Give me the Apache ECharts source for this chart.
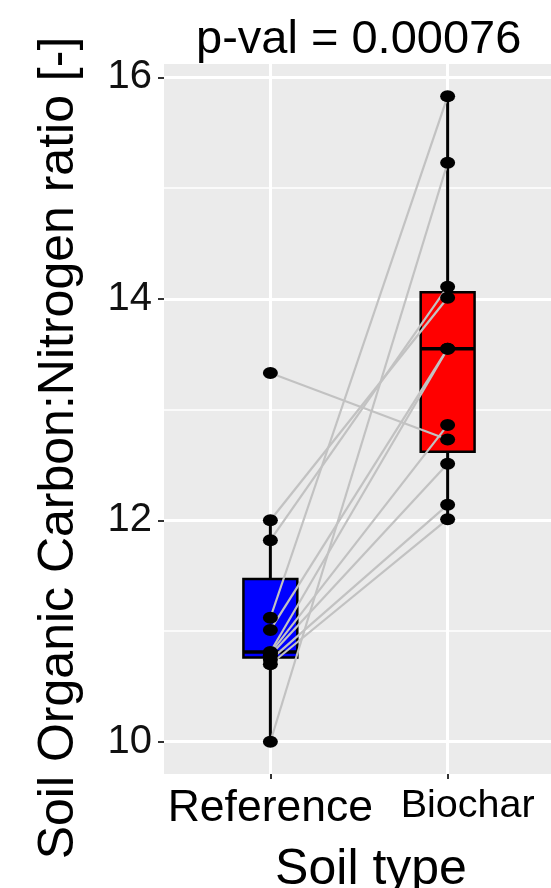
<!DOCTYPE html>
<html><head><meta charset="utf-8">
<script src="https://cdn.jsdelivr.net/npm/echarts@6/dist/echarts.min.js"></script>
<style>html,body{margin:0;padding:0;background:#fff}#c{width:551px;height:888px}</style>
</head><body><div id="c"></div>
<script>
// ---- data ----
const categories = ['Reference', 'Biochar'];
const categoryPositions = [1, 2];
const referenceValues = [13.33, 12.00, 11.82, 10.00, 11.12, 11.01, 10.81, 10.80, 10.78, 10.74, 10.70];
const biocharValues   = [12.73, 14.01, 14.11, 15.23, 15.83, 13.55, 13.55, 12.86, 12.51, 12.14, 12.01];
const yTicks = [10, 12, 14, 16];
const yMinorTicks = [11, 13, 15];
const titleText = 'p-val = 0.00076';
const xTitle = 'Soil type';
const yTitle = 'Soil Organic Carbon:Nitrogen ratio [-]';
const boxColors = ['#0000FF', '#FF0000'];

// ---- helpers ----
function quantile(s, p) {
  const h = (s.length - 1) * p, lo = Math.floor(h);
  const hiV = s[Math.min(lo + 1, s.length - 1)];
  return s[lo] + (h - lo) * (hiV - s[lo]);
}
function boxStats(vals, x) {
  const s = vals.slice().sort((a, b) => a - b);
  const q1 = quantile(s, 0.25), med = quantile(s, 0.5), q3 = quantile(s, 0.75), iqr = q3 - q1;
  const lo = s.find(v => v >= q1 - 1.5 * iqr);
  const hi = s.filter(v => v <= q3 + 1.5 * iqr).pop();
  return [x, lo, q1, med, q3, hi];
}
const groups = [referenceValues, biocharValues];
const boxData = groups.map((g, i) => boxStats(g, categoryPositions[i]));
const allVals = referenceValues.concat(biocharValues);
const dMin = Math.min(...allVals), dMax = Math.max(...allVals), dR = dMax - dMin;
const yMin = dMin - 0.05 * dR, yMax = dMax + 0.05 * dR;

const FONT = 'Liberation Sans, Arial, sans-serif';
const chart = echarts.init(document.getElementById('c'), null, {renderer: 'canvas'});

const pairSeries = referenceValues.map((r, i) => ({
  type: 'line',
  data: [[categoryPositions[0], r], [categoryPositions[1], biocharValues[i]]],
  symbol: 'none',
  lineStyle: {color: '#C2C2C2', width: 2.2},
  z: 4, silent: true, animation: false
}));

const pointData = [];
groups.forEach((g, i) => g.forEach(v => pointData.push([categoryPositions[i], v])));

const option = {
  animation: false,
  backgroundColor: '#ffffff',
  title: {
    text: titleText, left: 191, top: 12,
    textStyle: {fontSize: 47, fontWeight: 'normal', color: '#000', fontFamily: FONT}
  },
  grid: {left: 164, top: 64, width: 390, height: 710, show: true, backgroundColor: '#EBEBEB', borderWidth: 0,
    containLabel: false, outerBoundsMode: 'none'},
  xAxis: {
    type: 'value', min: 0.4, max: 2.6,
    axisLine: {show: false},
    splitLine: {show: false},
    axisTick: {show: true, customValues: categoryPositions, length: 5, lineStyle: {color: '#333', width: 2}},
    axisLabel: {
      show: true, customValues: categoryPositions, margin: 12,
      formatter: v => { const i = categoryPositions.indexOf(v); return i === 0 ? '{a|' + categories[0] + '}' : '{b|' + categories[1] + '}'; },
      rich: {
        a: {fontSize: 44.5, color: '#000', fontFamily: FONT},
        b: {fontSize: 39.5, color: '#000', fontFamily: FONT, padding: [0, 0, 0, 40]}
      }
    },
    name: xTitle, nameLocation: 'middle', nameGap: 71,
    nameTextStyle: {fontSize: 50, color: '#000', fontFamily: FONT, padding: [0, 0, 0, 24]}
  },
  yAxis: {
    type: 'value', min: yMin, max: yMax,
    axisLine: {show: false},
    splitLine: {show: false},
    axisTick: {show: true, customValues: yTicks, length: 6, lineStyle: {color: '#333', width: 2}},
    axisLabel: {show: true, customValues: yTicks, margin: 12, fontSize: 40, color: '#111', fontFamily: FONT},
    name: yTitle, nameLocation: 'middle', nameGap: 80,
    nameTextStyle: {fontSize: 50, color: '#000', fontFamily: FONT, padding: [0, 58, 0, 0]}
  },
  series: [
    {
      type: 'line', data: [], z: 1, silent: true,
      markLine: {
        z: 1, silent: true, symbol: ['none', 'none'], label: {show: false}, animation: false,
        lineStyle: {color: '#ffffff', type: 'solid'},
        data: [
          ...yTicks.map(v => ({yAxis: v, lineStyle: {width: 3, color: '#fff', type: 'solid'}})),
          ...yMinorTicks.map(v => ({yAxis: v, lineStyle: {width: 1.5, color: '#fff', type: 'solid'}})),
          ...categoryPositions.map(v => ({xAxis: v, lineStyle: {width: 3, color: '#fff', type: 'solid'}}))
        ]
      }
    },
    {
      type: 'custom', z: 3, silent: true,
      data: boxData,
      encode: {x: 0, y: [1, 2, 3, 4, 5]},
      renderItem: (params, api) => {
        const x = api.value(0), lo = api.value(1), q1 = api.value(2), med = api.value(3), q3 = api.value(4), hi = api.value(5);
        const half = 0.152;
        const pTL = api.coord([x - half, q3]);
        const pBR = api.coord([x + half, q1]);
        const cx = api.coord([x, med])[0];
        const yHi = api.coord([x, hi])[1], yLo = api.coord([x, lo])[1], yMed = api.coord([x, med])[1];
        return {
          type: 'group', children: [
            {type: 'line', shape: {x1: cx, y1: yHi, x2: cx, y2: pTL[1]}, style: {stroke: '#000', lineWidth: 3}},
            {type: 'line', shape: {x1: cx, y1: pBR[1], x2: cx, y2: yLo}, style: {stroke: '#000', lineWidth: 3}},
            {type: 'rect', shape: {x: pTL[0], y: pTL[1], width: pBR[0] - pTL[0], height: pBR[1] - pTL[1]},
              style: {fill: boxColors[params.dataIndex], stroke: '#000', lineWidth: 2.5}},
            {type: 'line', shape: {x1: pTL[0], y1: yMed, x2: pBR[0], y2: yMed}, style: {stroke: '#000', lineWidth: 3.5}}
          ]
        };
      }
    },
    ...pairSeries,
    {
      type: 'scatter', z: 5, silent: true,
      data: pointData,
      symbol: 'circle', symbolSize: [15, 12],
      itemStyle: {color: '#000', opacity: 1}
    }
  ]
};
chart.setOption(option);
</script>
</body></html>
